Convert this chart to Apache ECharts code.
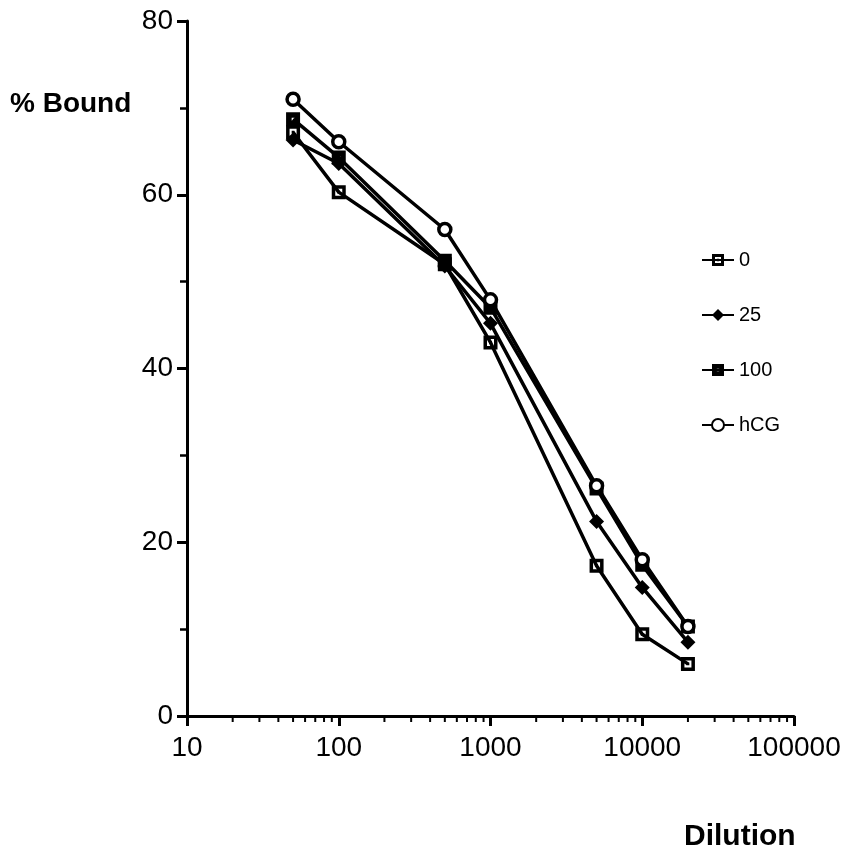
<!DOCTYPE html>
<html>
<head>
    <meta charset="utf-8">
    <title>% Bound vs Dilution</title>
    <style>
        body{ margin: 0; padding: 0; background: #fff; }
        #container{ width: 858px; height: 867px; }
    </style>
</head>
<body>
    <div id="container"></div>
    <script src="https://cdn.jsdelivr.net/npm/echarts@6/dist/echarts.min.js"></script>
    <script type="text/javascript">
    // dilution (x, log scale)
    var dilutions = [50, 100, 500, 1000, 5000, 10000, 20000];

    // % bound for each series
    var bound0   = [67.2, 60.3, 52.0, 43.0, 17.3, 9.4, 6.0];
    var bound25  = [66.3, 63.6, 51.8, 45.2, 22.4, 14.8, 8.5];
    var bound100 = [68.7, 64.3, 52.4, 47.0, 26.2, 17.4, 10.3];
    var boundHCG = [71.0, 66.1, 56.0, 47.9, 26.5, 18.0, 10.3];

    var seriesNames = ['0', '25', '100', 'hCG'];
    var xTickLabels = ['10', '100', '1000', '10000', '100000'];
    var yTickLabels = ['0', '20', '40', '60', '80'];

    // minor ticks of the log axis: 20..90, 200..900, ...
    var xMinorTicks = [];
    [10, 100, 1000, 10000].forEach(function (d) {
        for (var k = 2; k <= 9; k++) xMinorTicks.push(d * k);
    });

    function pairs(ys) {
        return dilutions.map(function (x, i) { return [x, ys[i]]; });
    }

    // square outline with a dot, filled square with a hole
    var openSquare = 'path://M0,0L10,0L10,10L0,10Z M2.5,2.5L2.5,7.5L7.5,7.5L7.5,2.5Z M4,4L6,4L6,6L4,6Z';
    var fullSquare = 'path://M0,0L10,0L10,10L0,10Z M4,4L4,6L6,6L6,4Z';

    var font = 'Liberation Sans, Arial, sans-serif';

    var dom = document.getElementById('container');
    var myChart = echarts.init(dom);

    var lineBase = {
        type: 'line',
        lineStyle: { color: '#000', width: 3.5 },
        itemStyle: { color: '#000' },
        symbolKeepAspect: true,
        z: 3
    };

    var option = {
        animation: false,
        backgroundColor: '#fff',
        textStyle: { fontFamily: font, color: '#000' },
        grid: { left: 187, top: 21, width: 607, height: 695, containLabel: false },
        legend: {
            orient: 'vertical',
            left: 696,
            top: 245,
            itemGap: 35,
            itemWidth: 32,
            itemHeight: 15,
            data: seriesNames,
            textStyle: { fontSize: 20, color: '#000', fontFamily: font }
        },
        xAxis: {
            type: 'log',
            logBase: 10,
            min: 10,
            max: 100000,
            axisLine: { lineStyle: { color: '#000', width: 3 } },
            axisTick: { show: true, length: 10, lineStyle: { color: '#000', width: 3 } },
            axisLabel: {
                fontSize: 28, color: '#000', margin: 18,
                formatter: function (v) {
                    var i = Math.round(Math.log10(v)) - 1;
                    return xTickLabels[i] !== undefined ? xTickLabels[i] : '';
                }
            },
            splitLine: { show: false }
        },
        yAxis: {
            type: 'value',
            min: 0,
            max: 80,
            interval: 20,
            axisLine: { show: true, lineStyle: { color: '#000', width: 3 } },
            axisTick: { show: true, length: 10, lineStyle: { color: '#000', width: 3 } },
            minorTick: { show: true, splitNumber: 2, length: 7, lineStyle: { color: '#000', width: 2.5 } },
            axisLabel: {
                fontSize: 28, color: '#000', margin: 14,
                formatter: function (v) { return yTickLabels[Math.round(v / 20)]; }
            },
            splitLine: { show: false }
        },
        graphic: [
            { type: 'text', left: 10, top: 90, style: { text: '% Bound', font: 'bold 28px ' + font, fill: '#000' } },
            { type: 'text', left: 684, top: 822, style: { text: 'Dilution', font: 'bold 30px ' + font, fill: '#000' } }
        ],
        series: [
            Object.assign({}, lineBase, {
                name: seriesNames[0], data: pairs(bound0),
                symbol: openSquare, symbolSize: 14
            }),
            Object.assign({}, lineBase, {
                name: seriesNames[1], data: pairs(bound25),
                symbol: 'diamond', symbolSize: 15
            }),
            Object.assign({}, lineBase, {
                name: seriesNames[2], data: pairs(bound100),
                symbol: fullSquare, symbolSize: 14
            }),
            Object.assign({}, lineBase, {
                name: seriesNames[3], data: pairs(boundHCG),
                symbol: 'circle', symbolSize: 12,
                itemStyle: { color: '#fff', borderColor: '#000', borderWidth: 3.5 }
            }),
            {
                // log-spaced minor ticks on the x axis
                type: 'custom',
                silent: true,
                clip: false,
                data: xMinorTicks.map(function (v) { return [v, 0]; }),
                renderItem: function (params, api) {
                    var p = api.coord([api.value(0), 0]);
                    return {
                        type: 'line',
                        shape: { x1: p[0], y1: p[1], x2: p[0], y2: p[1] + 6 },
                        style: { stroke: '#000', lineWidth: 2 }
                    };
                },
                z: 1
            }
        ]
    };

    myChart.setOption(option, true);
    </script>
</body>
</html>
